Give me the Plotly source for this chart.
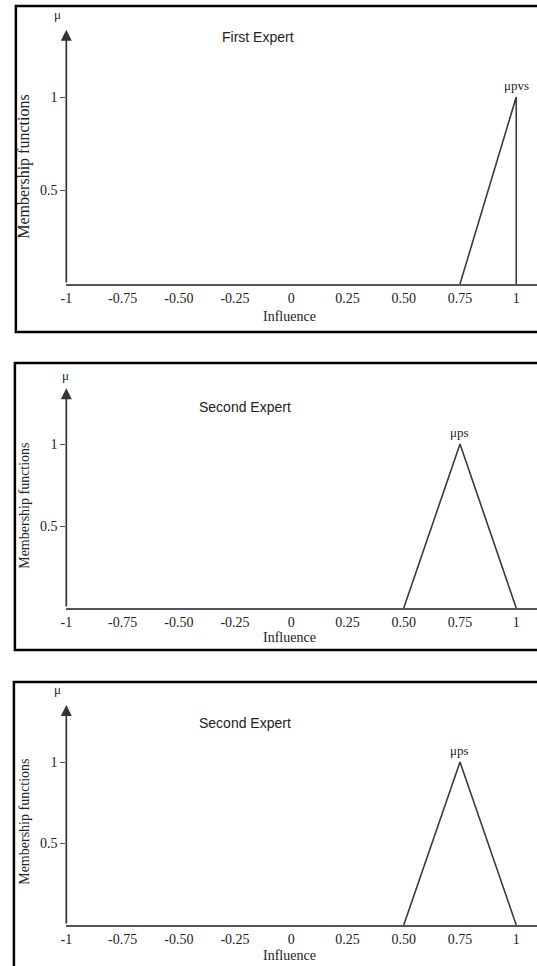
import plotly.graph_objects as go

# ---------------- data ----------------
panel_titles = ["First Expert", "Second Expert", "Second Expert"]
peak_labels = ["μpvs", "μps", "μps"]
mf_x = [[0.75, 1, 1], [0.5, 0.75, 1], [0.5, 0.75, 1]]
mf_y = [[0, 1, 0], [0, 1, 0], [0, 1, 0]]
peak_x = [1, 0.75, 0.75]
x_ticks = [-1, -0.75, -0.5, -0.25, 0, 0.25, 0.5, 0.75, 1]
x_tick_text = ["-1", "-0.75", "-0.50", "-0.25", "0", "0.25", "0.50", "0.75", "1"]
y_ticks = [0.5, 1]
y_tick_text = ["0.5", "1"]
arrow_top = [1.36, 1.34, 1.35]
x_title = "Influence"
y_title = "Membership functions"
mu_symbol = "μ"

# ---------------- geometry (pixels) ----------------
W, H = 537, 966
X_LEFT = 61          # pixel of x = -1
X_UNIT = 227.5       # pixels per x unit
panels = [
    dict(y0=284, y1=97, top=6, bottom=332, mu=(52, 15), title=(255, 37),
         ytitle=(18, 167), ytfs=16, xtitle=(287, 316), border_left=10),
    dict(y0=608, y1=444, top=363, bottom=650, mu=(60, 375), title=(242, 407),
         ytitle=(18, 506), ytfs=14, xtitle=(287, 637), border_left=9),
    dict(y0=925, y1=762, top=682, bottom=990, mu=(52, 689), title=(242, 723),
         ytitle=(18, 822), ytfs=14, xtitle=(287, 955), border_left=8),
]

def px(x):
    return x / W

def py(y):
    return 1 - y / H

Y_TOP_VAL = 1.45
x_range = [-1, -1 + (W - X_LEFT) / X_UNIT]

serif = "Liberation Serif, Times New Roman, serif"
sans = "Liberation Sans, Arial, sans-serif"
line_col = "#3a3a3a"
axis_col = "#555555"

fig = go.Figure()
layout = dict(
    width=W, height=H, margin=dict(l=0, r=0, t=0, b=0),
    paper_bgcolor="white", plot_bgcolor="white", showlegend=False,
)
annotations = []
shapes = []

for i, p in enumerate(panels):
    n = "" if i == 0 else str(i + 1)
    xa, ya = "x" + n, "y" + n
    unit = p["y0"] - p["y1"]
    top_px = p["y0"] - Y_TOP_VAL * unit
    layout["xaxis" + n] = dict(
        domain=[px(X_LEFT), 1.0], range=x_range, anchor=ya,
        tickvals=x_ticks, ticktext=x_tick_text, ticks="",
        showline=True, linecolor=axis_col, linewidth=1.7,
        showgrid=False, zeroline=False,
        tickfont=dict(family=serif, size=14, color="#222"),
        fixedrange=True,
    )
    layout["yaxis" + n] = dict(
        domain=[py(p["y0"]), py(top_px)], range=[0, Y_TOP_VAL], anchor=xa,
        tickvals=y_ticks, ticktext=y_tick_text, ticks="outside", ticklen=5,
        tickcolor=axis_col, tickwidth=1.2,
        showline=False, showgrid=False, zeroline=False,
        tickfont=dict(family=serif, size=14, color="#222"),
        fixedrange=True,
    )
    fig.add_trace(go.Scatter(
        x=mf_x[i], y=mf_y[i], mode="lines", xaxis=xa, yaxis=ya,
        line=dict(color=line_col, width=1.6), hoverinfo="skip",
    ))
    annotations.append(dict(
        x=-1, y=arrow_top[i], ax=-1, ay=0, xref=xa, yref=ya, axref=xa, ayref=ya,
        text="", showarrow=True, arrowhead=2, arrowsize=1.3, arrowwidth=1.7,
        arrowcolor="#333", standoff=0, startstandoff=0,
    ))
    annotations.append(dict(
        x=peak_x[i], y=1, xref=xa, yref=ya, text=peak_labels[i], showarrow=False,
        yanchor="bottom", yshift=2,
        font=dict(family=serif, size=13, color="#222"),
    ))
    annotations.append(dict(
        x=px(p["mu"][0]), y=py(p["mu"][1]), xref="paper", yref="paper",
        text=mu_symbol, showarrow=False, xanchor="center", yanchor="middle",
        font=dict(family=serif, size=13, color="#222"),
    ))
    annotations.append(dict(
        x=px(p["title"][0]), y=py(p["title"][1]), xref="paper", yref="paper",
        text=panel_titles[i], showarrow=False, xanchor="center", yanchor="middle",
        font=dict(family=sans, size=14, color="#222"),
    ))
    annotations.append(dict(
        x=px(p["ytitle"][0]), y=py(p["ytitle"][1]), xref="paper", yref="paper",
        text=y_title, showarrow=False, textangle=-90,
        xanchor="center", yanchor="middle",
        font=dict(family=serif, size=p["ytfs"], color="#222"),
    ))
    annotations.append(dict(
        x=px(p["xtitle"][0]), y=py(p["xtitle"][1]), xref="paper", yref="paper",
        text=x_title, showarrow=False, xanchor="center", yanchor="middle",
        font=dict(family=serif, size=14, color="#222"),
    ))
    shapes.append(dict(
        type="rect", xref="paper", yref="paper",
        x0=px(p["border_left"]), x1=px(W + 20),
        y0=py(p["bottom"]), y1=py(p["top"]),
        line=dict(color="black", width=2.5), fillcolor="rgba(0,0,0,0)",
        layer="above",
    ))

layout["annotations"] = annotations
layout["shapes"] = shapes
fig.update_layout(**layout)
fig.write_html(
    "out.html",
    config={"displayModeBar": False},
    post_script="document.body.style.margin='0';document.body.style.overflow='hidden';",
)
